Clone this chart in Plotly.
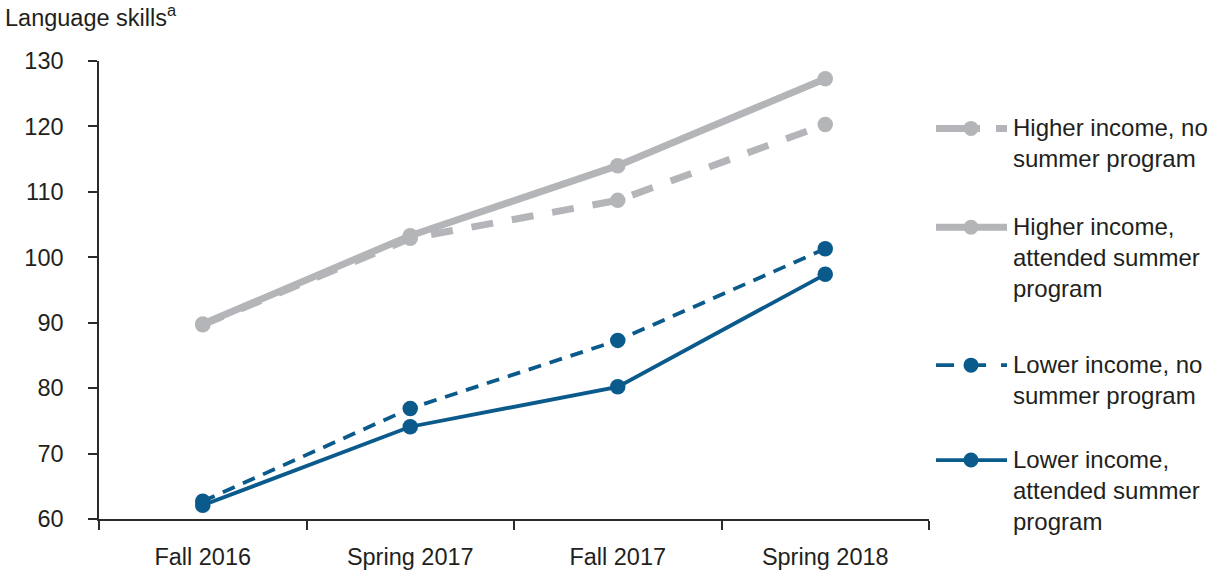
import plotly.graph_objects as go

categories = ["Fall 2016", "Spring 2017", "Fall 2017", "Spring 2018"]
higher_no = [89.7, 102.9, 108.7, 120.3]
higher_attended = [89.8, 103.3, 114.0, 127.3]
lower_no = [62.7, 76.9, 87.3, 101.3]
lower_attended = [62.1, 74.1, 80.2, 97.4]

series_names = [
    "Higher income, no<br>summer program",
    "Higher income,<br>attended summer<br>program",
    "Lower income, no<br>summer program",
    "Lower income,<br>attended summer<br>program",
]
y_ticks = [60, 70, 80, 90, 100, 110, 120, 130]

GRAY = "#b4b5b8"
BLUE = "#0b5a8c"
FONT = "Liberation Sans, Arial, Helvetica, sans-serif"
TEXT = "#231f20"
AXIS = "#2b2b2b"

fig = go.Figure()

fig.add_trace(go.Scatter(
    x=categories, y=higher_no, mode="lines+markers", name=series_names[0],
    line=dict(color=GRAY, width=7, dash="22px,19px"),
    marker=dict(color=GRAY, size=15.5), showlegend=False))
fig.add_trace(go.Scatter(
    x=categories, y=higher_attended, mode="lines+markers", name=series_names[1],
    line=dict(color=GRAY, width=7),
    marker=dict(color=GRAY, size=15.5), showlegend=False))
fig.add_trace(go.Scatter(
    x=categories, y=lower_no, mode="lines+markers", name=series_names[2],
    line=dict(color=BLUE, width=3.8, dash="13px,9px"),
    marker=dict(color=BLUE, size=15.5), showlegend=False))
fig.add_trace(go.Scatter(
    x=categories, y=lower_attended, mode="lines+markers", name=series_names[3],
    line=dict(color=BLUE, width=3.8),
    marker=dict(color=BLUE, size=15.5), showlegend=False))

FIG_W, FIG_H = 1210, 573
L, R, T, B = 99, 281, 60.5, 54
W = FIG_W - L - R
H = FIG_H - T - B


def px_x(px):
    return (px - L) / W


def px_y(py):
    return (FIG_H - B - py) / H


legend_rows = [
    (series_names[0], GRAY, 7, "44px,16px", 128),
    (series_names[1], GRAY, 7, "solid", 227),
    (series_names[2], BLUE, 3.8, "18px,10px,22px,15px", 365),
    (series_names[3], BLUE, 3.8, "solid", 460),
]
shapes = []
annotations = []
for name, color, width, dash, ypx in legend_rows:
    shapes.append(dict(type="line", xref="paper", yref="paper",
                       x0=px_x(936), x1=px_x(1007), y0=px_y(ypx), y1=px_y(ypx),
                       line=dict(color=color, width=width, dash=dash)))
    shapes.append(dict(type="circle", xref="paper", yref="paper",
                       xsizemode="pixel", ysizemode="pixel",
                       xanchor=px_x(971), yanchor=px_y(ypx),
                       x0=-7.5, x1=7.5, y0=-7.5, y1=7.5,
                       fillcolor=color, line=dict(width=0)))
    annotations.append(dict(text=name, xref="paper", yref="paper",
                            x=px_x(1011), y=px_y(ypx - 16), xanchor="left", yanchor="top",
                            align="left", showarrow=False,
                            font=dict(family=FONT, size=24, color=TEXT)))

annotations.append(dict(text="Language skills<sup>a</sup>", xref="paper", yref="paper",
                        x=px_x(3), y=px_y(15), xanchor="left", yanchor="middle",
                        showarrow=False, font=dict(family=FONT, size=23.5, color=TEXT)))

fig.update_layout(
    width=FIG_W, height=FIG_H,
    margin=dict(l=L, r=R, t=T, b=B),
    paper_bgcolor="white", plot_bgcolor="white",
    font=dict(family=FONT, size=23.5, color=TEXT),
    shapes=shapes, annotations=annotations,
    xaxis=dict(type="category", range=[-0.5, 3.5], tickson="boundaries",
               automargin=False,
               showgrid=False, zeroline=False, showline=True, linecolor=AXIS,
               linewidth=1.5, ticks="outside", ticklen=9, tickcolor=AXIS,
               tickwidth=1.5, ticklabelstandoff=16,
               tickfont=dict(size=23.5, color=TEXT)),
    yaxis=dict(range=[60, 130], tickvals=y_ticks, automargin=False,
               showgrid=False, zeroline=False, showline=True, linecolor=AXIS,
               linewidth=1.5, ticks="outside", ticklen=9, tickcolor=AXIS,
               tickwidth=1.5, ticklabelstandoff=20,
               tickfont=dict(size=23.5, color=TEXT)),
)

fig.write_html("out.html", config={"displayModeBar": False},
               post_script="document.body.style.margin='0';")
